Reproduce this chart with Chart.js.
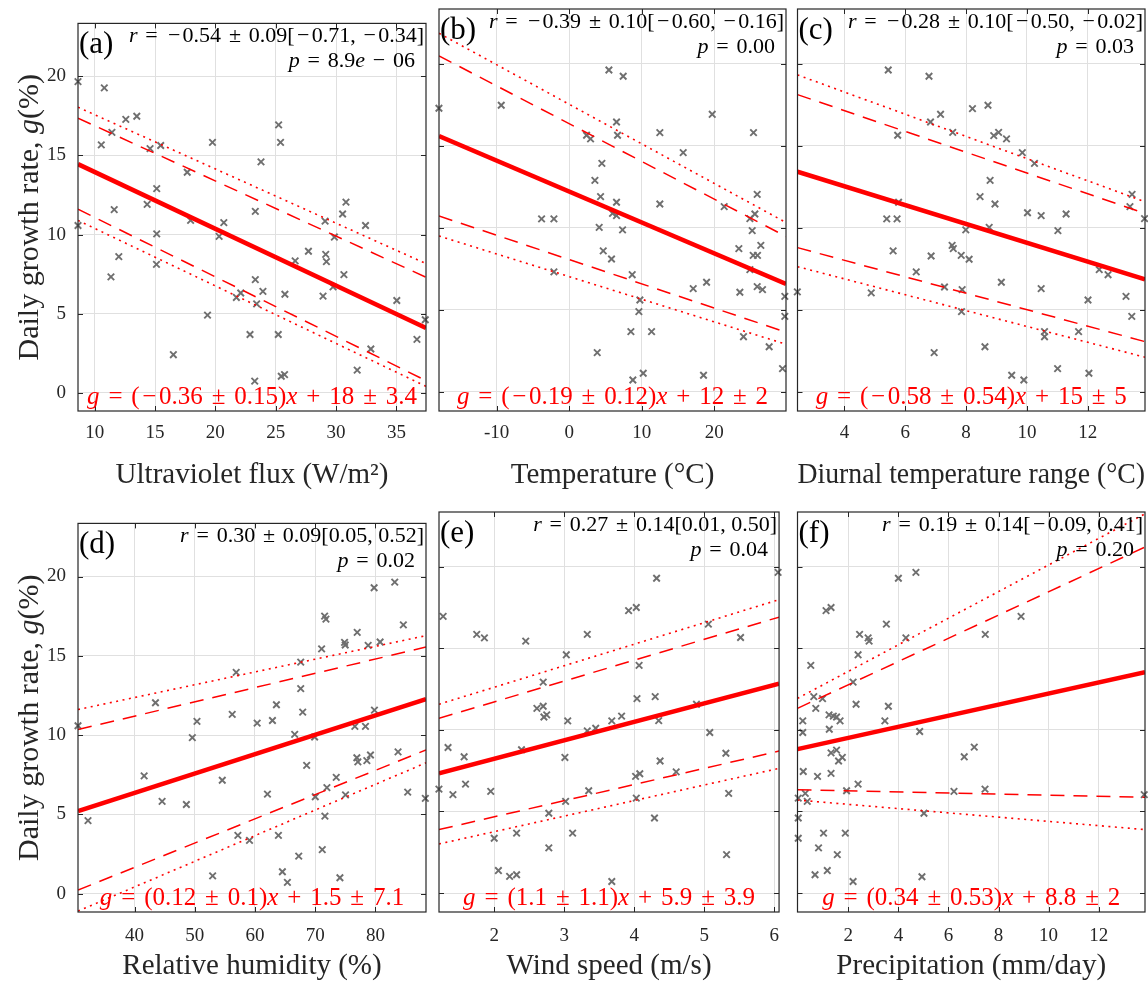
<!DOCTYPE html>
<html><head><meta charset="utf-8">
<script src="https://cdn.jsdelivr.net/npm/chart.js@4.4.1/dist/chart.umd.min.js"></script>
<style>
html,body{margin:0;padding:0;background:#fff;}
#wrap{position:relative;width:1148px;height:984px;overflow:hidden;}
canvas{position:absolute;}
</style></head><body><div id="wrap"></div>
<script>
// ---------- shared y axis ----------
const yTicks = [0, 5, 10, 15, 20];
const yRange = [-1.16, 23.35];
const yLabelSegs = [['Daily growth rate, ', 0], ['g', 1], ['(%)', 0]];

// ---------- (a) Ultraviolet flux ----------
const uvX = [8.62,10.8,13.49,12.58,11.43,10.55,14.59,15.47,19.76,25.24,25.4,23.78,17.67,15.14,14.35,11.62,23.31,30.82,30.54,29.09,32.44,8.62,17.95,20.7,20.31,15.14,29.86,12.0,27.71,29.14,29.2,26.61,11.35,15.12,30.65,23.31,23.94,22.1,21.74,25.76,28.92,29.75,23.42,35.03,19.35,37.39,36.7,22.87,25.21,32.88,16.52,31.75,23.26,25.46,25.73];
const uvG = [19.67,19.27,17.48,17.28,16.46,15.67,15.43,15.63,15.83,16.93,15.83,14.59,13.94,12.9,11.91,11.57,11.46,12.05,11.3,10.85,10.57,10.57,10.89,10.75,9.88,10.04,9.84,8.6,8.94,8.74,8.29,8.33,7.32,8.11,7.46,7.15,6.4,6.3,6.02,6.22,6.1,6.69,5.61,5.83,4.9,4.61,3.37,3.68,3.68,2.76,2.4,1.42,0.73,1.04,1.14];
const uvLim = [8.62, 37.45];
const uvTicks = [10, 15, 20, 25, 30, 35];
const uvFit = [14.45, 4.09], uvDashHi = [17.36, 7.30], uvDashLo = [11.6, 0.76], uvDotHi = [18.05, 8.16], uvDotLo = [10.89, 0.40];

// ---------- (b) Temperature ----------
const tX = [-17.96,-9.37,5.47,7.44,6.52,6.66,2.39,2.94,12.49,19.71,25.4,15.71,4.5,3.54,4.32,6.52,12.49,25.91,25.59,21.36,24.9,-3.81,-2.11,5.97,6.52,4.13,7.35,25.22,4.69,5.83,23.38,25.36,25.95,26.41,24.9,-2.11,8.68,17.09,18.93,23.52,25.91,26.64,29.72,9.74,9.6,29.72,8.5,11.35,24.02,27.56,3.86,29.4,8.77,10.2,18.51];
const tG = [17.3,17.48,19.63,19.25,16.46,15.65,15.65,15.43,15.81,16.93,15.81,14.59,13.94,12.9,11.91,11.57,11.46,12.05,10.85,11.3,10.57,10.55,10.55,10.89,10.75,10.04,9.88,9.84,8.6,8.11,8.74,8.33,8.33,8.94,7.46,7.32,7.15,6.3,6.69,6.08,6.42,6.24,5.83,5.61,4.9,4.61,3.68,3.68,3.37,2.76,2.4,1.42,0.73,1.14,1.02];
const tLim = [-17.95, 29.88];
const tTicks = [-10, 0, 10, 20];
const tFit = [15.61, 6.59], tDashHi = [20.49, 9.48], tDashLo = [10.73, 3.65], tDotHi = [21.87, 10.33], tDotLo = [9.51, 2.91];

// ---------- (c) Diurnal temperature range ----------
const dtrX = [5.44,6.78,8.21,8.72,7.16,6.83,5.75,7.56,8.91,9.07,9.33,9.85,10.25,8.79,8.46,8.95,13.46,13.39,5.78,5.39,5.73,10.02,10.47,11.29,13.87,8.76,7.99,11.02,5.6,7.54,7.58,7.84,8.1,6.85,6.36,12.38,12.67,9.16,7.29,7.87,10.47,2.45,4.88,13.26,12.01,7.85,13.45,10.58,10.58,11.7,8.62,6.95,11.01,9.5,9.9,12.04];
const dtrG = [19.63,19.25,17.28,17.48,16.93,16.46,15.65,15.83,15.63,15.83,15.43,14.59,13.94,12.9,11.91,11.46,12.05,11.3,11.57,10.55,10.55,10.93,10.75,10.85,10.57,10.04,9.88,9.84,8.6,8.94,8.74,8.33,8.09,8.29,7.32,7.46,7.15,6.69,6.4,6.24,6.3,6.1,6.04,5.83,5.61,4.9,4.61,3.68,3.37,3.68,2.76,2.4,1.42,1.02,0.73,1.14];
const dtrLim = [2.455, 13.885];
const dtrTicks = [4, 6, 8, 10, 12];
const dtrFit = [13.43, 6.87], dtrDashHi = [18.13, 10.89], dtrDashLo = [8.8, 3.07], dtrDotHi = [19.33, 11.6], dtrDotLo = [7.64, 2.12];

// ---------- (d) Relative humidity ----------
const rhX = [83.2,79.78,71.56,71.78,84.63,76.97,74.87,74.98,78.79,80.77,71.06,67.59,56.88,67.59,43.48,63.56,56.22,67.92,79.83,30.62,50.37,60.36,62.9,76.58,78.34,66.59,69.9,49.6,68.58,76.91,77.08,78.57,79.17,83.75,41.6,54.57,73.49,71.94,62.07,75.03,70.01,85.35,88.28,44.58,48.61,71.61,32.28,57.16,59.09,63.89,67.26,71.17,52.97,64.55,65.38,74.1];
const rhG = [19.65,19.29,17.5,17.31,16.95,16.48,15.85,15.68,15.66,15.87,15.44,14.6,13.95,12.93,12.04,11.91,11.3,11.45,11.57,10.59,10.86,10.75,10.92,10.55,10.55,10.04,9.88,9.84,8.09,8.57,8.31,8.39,8.74,8.94,7.43,7.15,7.33,6.68,6.27,6.23,6.11,6.4,6.01,5.82,5.62,4.89,4.6,3.67,3.36,3.67,2.36,2.77,1.12,1.38,0.71,1.0];
const rhLim = [30.62, 88.39];
const rhTicks = [40, 50, 60, 70, 80];
const rhFit = [5.21, 12.26], rhDashHi = [10.35, 15.55], rhDashLo = [0.22, 9.06], rhDotHi = [11.61, 16.27], rhDotLo = [-1.1, 8.25];

// ---------- (e) Wind speed ----------
const wsX = [6.056,4.32,3.92,4.03,1.27,5.06,1.75,1.86,3.33,2.45,5.52,3.03,4.07,2.7,4.3,4.04,2.61,2.7,2.71,2.75,3.05,3.68,3.82,4.35,4.89,3.33,3.45,5.08,1.34,1.57,2.39,3.01,5.31,4.37,4.6,4.02,4.08,1.59,1.21,1.41,1.95,3.35,5.35,3.02,4.03,2.78,4.29,2.0,2.32,3.12,2.78,5.32,2.06,2.22,2.32,3.68];
const wsG = [19.65,19.29,17.31,17.5,16.95,16.48,15.85,15.64,15.85,15.44,15.66,14.6,13.95,12.93,12.04,11.91,11.32,11.45,10.79,10.92,10.55,10.55,10.84,10.57,11.57,9.94,10.1,9.84,8.92,8.35,8.78,8.31,8.57,8.09,7.43,7.15,7.31,6.68,6.37,6.03,6.23,6.27,6.11,5.62,5.82,4.89,4.6,3.36,3.67,3.67,2.77,2.36,1.38,1.02,1.12,0.71];
const wsLim = [1.211, 6.07];
const wsTicks = [2, 3, 4, 5, 6];
const wsFit = [7.33, 12.83], wsDashHi = [10.71, 16.91], wsDashLo = [3.89, 8.70], wsDotHi = [11.57, 17.98], wsDotLo = [3.01, 7.64];

// ---------- (f) Precipitation ----------
const prX = [4.7,4.0,1.11,1.31,8.9,3.52,2.45,2.79,2.83,4.3,7.47,2.39,0.5,2.19,0.62,0.97,0.7,2.31,3.6,1.23,1.4,1.53,1.67,0.18,3.46,1.24,0.18,4.85,1.31,1.53,1.76,1.61,7.03,6.63,0.2,1.31,0.77,2.39,1.93,6.22,7.46,13.82,0.28,0.0,0.36,5.02,0.0,0.0,1.01,1.88,0.81,1.56,1.16,0.67,2.19,4.94];
const prG = [19.65,19.29,17.31,17.5,16.95,16.48,15.85,15.64,15.44,15.64,15.85,14.6,13.95,12.93,12.04,11.91,11.32,11.57,11.45,10.92,10.84,10.79,10.55,10.55,10.55,10.04,9.84,9.9,8.59,8.76,8.31,8.09,8.94,8.35,7.45,7.33,7.15,6.68,6.27,6.23,6.37,6.03,6.11,5.82,5.62,4.89,4.6,3.36,3.67,3.67,2.77,2.36,1.38,1.12,0.71,1.0];
const prLim = [-0.03, 13.85];
const prTicks = [2, 4, 6, 8, 10, 12];
const prFit = [8.82, 13.54], prDashHi = [11.32, 21.2], prDashLo = [6.33, 5.87], prDotHi = [11.93, 23.24], prDotLo = [5.7, 3.89];

// ---------- texts ----------
const letters = ['(a)', '(b)', '(c)', '(d)', '(e)', '(f)'];
const xTitles = ['Ultraviolet flux (W/m²)', 'Temperature (°C)', 'Diurnal temperature range (°C)',
                 'Relative humidity (%)', 'Wind speed (m/s)', 'Precipitation (mm/day)'];
const rTexts = [' = −0.54 ± 0.09[−0.71, −0.34]', ' = −0.39 ± 0.10[−0.60, −0.16]', ' = −0.28 ± 0.10[−0.50, −0.02]',
                ' = 0.30 ± 0.09[0.05, 0.52]', ' = 0.27 ± 0.14[0.01, 0.50]', ' = 0.19 ± 0.14[−0.09, 0.41]'];
const pTexts = [[[' = 8.9', 0], ['e', 1], [' − 06', 0]], [[' = 0.00', 0]], [[' = 0.03', 0]],
                [[' = 0.02', 0]], [[' = 0.04', 0]], [[' = 0.20', 0]]];
const eqSlope = ['(−0.36 ± 0.15)', '(−0.19 ± 0.12)', '(−0.58 ± 0.54)', '(0.12 ± 0.1)', '(1.1 ± 1.1)', '(0.34 ± 0.53)'];
const eqIntercept = ['18 ± 3.4', '12 ± 2', '15 ± 5', '1.5 ± 7.1', '5.9 ± 3.9', '8.8 ± 2'];

// ---------- layout (canvas rect, plot rect) ----------
const SERIF = '"Liberation Serif", "Times New Roman", serif';
const panels = [
  {x: uvX, y: uvG, lim: uvLim, ticks: uvTicks, lines: [uvFit, uvDashHi, uvDashLo, uvDotHi, uvDotLo], cv: [0, 0, 432, 500], plot: [78, 9, 426, 411], yl: true},
  {x: tX, y: tG, lim: tLim, ticks: tTicks, lines: [tFit, tDashHi, tDashLo, tDotHi, tDotLo], cv: [432, 0, 360, 500], plot: [439, 9, 786, 411], yl: false},
  {x: dtrX, y: dtrG, lim: dtrLim, ticks: dtrTicks, lines: [dtrFit, dtrDashHi, dtrDashLo, dtrDotHi, dtrDotLo], cv: [792, 0, 356, 500], plot: [797.5, 9, 1145, 411], yl: false},
  {x: rhX, y: rhG, lim: rhLim, ticks: rhTicks, lines: [rhFit, rhDashHi, rhDashLo, rhDotHi, rhDotLo], cv: [0, 500, 432, 484], plot: [78, 512, 426, 912], yl: true},
  {x: wsX, y: wsG, lim: wsLim, ticks: wsTicks, lines: [wsFit, wsDashHi, wsDashLo, wsDotHi, wsDotLo], cv: [432, 500, 360, 484], plot: [439, 512, 786, 912], yl: false},
  {x: prX, y: prG, lim: prLim, ticks: prTicks, lines: [prFit, prDashHi, prDashLo, prDotHi, prDotLo], cv: [792, 500, 356, 484], plot: [797.5, 512, 1145, 912], yl: false}
];
const lineStyles = [
  {w: 4.5, dash: []},
  {w: 1.5, dash: [14, 9]},
  {w: 1.5, dash: [14, 9]},
  {w: 1.6, dash: [2, 4.5]},
  {w: 1.6, dash: [2, 4.5]}
];

// math-like text: operators get extra side bearing (wider, like TeX)
const WIDE = new Set(['−', '±', '=', '+']);
function drawRich(ctx, segs, x, y, align, size, color, opExtra) {
  ctx.save();
  ctx.fillStyle = color;
  ctx.textBaseline = 'alphabetic';
  ctx.textAlign = 'left';
  const extra = opExtra * size;
  const items = [];
  let total = 0;
  segs.forEach(([t, it]) => {
    const font = (it ? 'italic ' : '') + size + 'px ' + SERIF;
    ctx.font = font;
    for (const ch of t) {
      const w = ctx.measureText(ch).width;
      const pad = WIDE.has(ch) ? extra : 0;
      items.push({ch, font, w, pad});
      total += w + pad;
    }
  });
  let sx = align === 'right' ? x - total : align === 'center' ? x - total / 2 : x;
  items.forEach(o => {
    ctx.font = o.font;
    ctx.fillText(o.ch, sx + o.pad / 2, y);
    sx += o.w + o.pad;
  });
  ctx.restore();
}

const wrap = document.getElementById('wrap');
panels.forEach((P, i) => {
  const cv = document.createElement('canvas');
  cv.width = P.cv[2]; cv.height = P.cv[3];
  cv.style.left = P.cv[0] + 'px'; cv.style.top = P.cv[1] + 'px';
  cv.style.width = P.cv[2] + 'px'; cv.style.height = P.cv[3] + 'px';
  wrap.appendChild(cv);
  const top = i < 3;
  const yW = P.plot[0] - P.cv[0];
  const padTop = P.plot[1] - P.cv[1];
  const padRight = P.cv[0] + P.cv[2] - P.plot[2];
  const xH = P.cv[1] + P.cv[3] - P.plot[3];

  const datasets = [];
  P.lines.forEach((ln, k) => {
    datasets.push({
      data: [{x: P.lim[0], y: ln[0]}, {x: P.lim[1], y: ln[1]}],
      showLine: true, pointRadius: 0, borderColor: '#ff0000',
      borderWidth: lineStyles[k].w, borderDash: lineStyles[k].dash,
      clip: 0, order: 0
    });
  });
  datasets.push({
    data: P.x.map((v, j) => ({x: v, y: P.y[j]})),
    showLine: false, pointStyle: 'crossRot', pointRadius: 4.6, pointBorderWidth: 1.9,
    borderColor: '#6f6f6f', backgroundColor: '#6f6f6f', clip: false, order: 1
  });

  const deco = {
    id: 'deco' + i,
    afterDraw(chart) {
      const ctx = chart.ctx, ca = chart.chartArea;
      const xs = chart.scales.x, ys = chart.scales.y;
      ctx.save();
      ctx.strokeStyle = '#262626';
      ctx.lineWidth = 1.2;
      ctx.strokeRect(ca.left, ca.top, ca.right - ca.left, ca.bottom - ca.top);
      ctx.lineWidth = 1;
      ctx.beginPath();
      xs.ticks.forEach(t => {
        const px = Math.round(xs.getPixelForValue(t.value)) + 0.5;
        ctx.moveTo(px, ca.bottom); ctx.lineTo(px, ca.bottom - 5);
        ctx.moveTo(px, ca.top); ctx.lineTo(px, ca.top + 5);
      });
      ys.ticks.forEach(t => {
        const py = Math.round(ys.getPixelForValue(t.value)) + 0.5;
        ctx.moveTo(ca.left, py); ctx.lineTo(ca.left + 5, py);
        ctx.moveTo(ca.right, py); ctx.lineTo(ca.right - 5, py);
      });
      ctx.stroke();
      ctx.restore();
      // panel letter
      drawRich(ctx, [[letters[i], 0]], ca.left + 1, ca.top + 29.5, 'left', 31, '#000', 0);
      // r and p
      drawRich(ctx, [['r', 1], [rTexts[i], 0]], ca.right - 2, ca.top + 19, 'right', 22, '#000', 0.21);
      drawRich(ctx, [['p', 1]].concat(pTexts[i]), ca.right - 11, ca.top + 44, 'right', 22, '#000', 0.21);
      // equation
      drawRich(ctx, [['g', 1], [' = ' + eqSlope[i], 0], ['x', 1], [' + ' + eqIntercept[i], 0]],
               (ca.left + ca.right) / 2, ca.bottom - 7.5, 'center', 25, '#ff0000', 0.21);
      // y label
      if (P.yl) {
        ctx.save();
        ctx.translate(28, (ca.top + ca.bottom) / 2);
        ctx.rotate(-Math.PI / 2);
        drawRich(ctx, yLabelSegs, 0, 10, 'center', 30, '#262626', 0);
        ctx.restore();
      }
    }
  };

  new Chart(cv, {
    type: 'scatter',
    data: {datasets},
    plugins: [deco],
    options: {
      responsive: false, animation: false, events: [],
      devicePixelRatio: 1,
      layout: {autoPadding: false, padding: {top: padTop, right: padRight, left: 0, bottom: 0}},
      plugins: {legend: {display: false}, tooltip: {enabled: false}},
      scales: {
        x: {
          type: 'linear', min: P.lim[0], max: P.lim[1],
          afterBuildTicks: s => { s.ticks = P.ticks.map(v => ({value: v})); },
          afterFit: s => { s.height = xH; },
          grid: {color: '#e0e0e0', lineWidth: 1, drawTicks: false},
          border: {display: false},
          ticks: {font: {family: SERIF, size: 19}, color: '#262626', padding: top ? 11 : 13, maxRotation: 0},
          title: {display: true, text: xTitles[i], font: {family: SERIF, size: 29}, color: '#262626',
                  padding: {top: 0, bottom: top ? 7.6 : 0.6}}
        },
        y: {
          type: 'linear', min: yRange[0], max: yRange[1],
          afterBuildTicks: s => { s.ticks = yTicks.map(v => ({value: v})); },
          afterFit: s => { s.width = yW; },
          grid: {color: '#e0e0e0', lineWidth: 1, drawTicks: false},
          border: {display: false},
          ticks: {display: P.yl, font: {family: SERIF, size: 19}, color: '#262626', padding: 12}
        }
      }
    }
  });
});
</script>
</body></html>
